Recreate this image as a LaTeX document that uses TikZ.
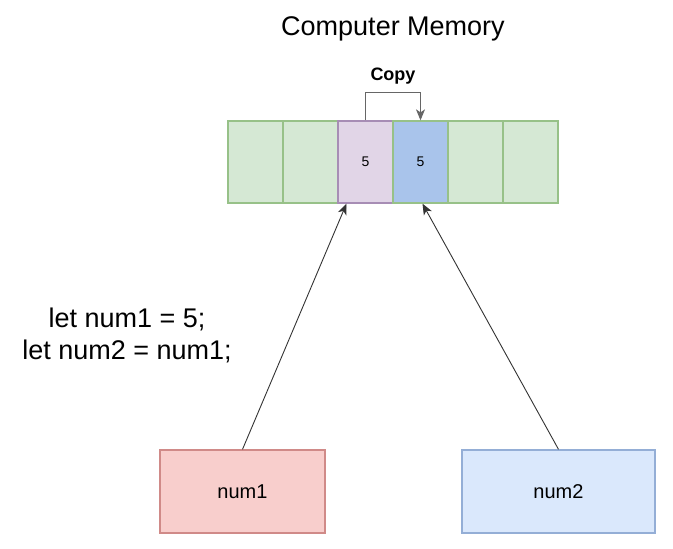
\documentclass[tikz,border=0pt]{standalone}
\usepackage{fontspec}
\setmainfont{Liberation Sans}
\usepackage{xcolor}
\usetikzlibrary{arrows.meta,positioning}

\definecolor{cellgreen}{HTML}{D5E8D4}
\definecolor{linegreen}{HTML}{97C188}
\definecolor{cellpurple}{HTML}{E1D5E7}
\definecolor{linepurple}{HTML}{A78DB5}
\definecolor{cellblue}{HTML}{A9C4EB}
\definecolor{varred}{HTML}{F8CECC}
\definecolor{linered}{HTML}{D08A88}
\definecolor{varblue}{HTML}{DAE8FC}
\definecolor{lineblue}{HTML}{94AED6}

\begin{document}
\begin{tikzpicture}[
    x=1pt, y=-1pt,
    cell/.style={draw=linegreen, fill=cellgreen, line width=1.3pt, minimum width=55pt, minimum height=82pt, inner sep=0pt, font=\fontsize{14}{16}\selectfont},
    var/.style={draw, line width=1.3pt, minimum width=165pt, minimum height=83pt, font=\fontsize{20}{24}\selectfont},
    arrow/.style={-{Stealth[length=11pt,width=9pt,inset=3pt]}, line width=0.9pt, draw=black!80}
]
\useasboundingbox (0,0) rectangle (673,549);

\node[font=\fontsize{27}{32}\selectfont] (title) at (393,29) {Computer Memory};

% memory cells
\foreach \i in {1,...,6}
  \node[cell] (c\i) at ({255.5+55*(\i-1)},162) {};
\node[cell, draw=linepurple, fill=cellpurple] (c3) at (365.5,162) {5};
\node[cell, fill=cellblue] (c4) at (420.5,162) {5};

\draw[arrow, draw=black!60] (c3.north) -- ++(0,-28) -| node[pos=0.25, above=4pt, font=\bfseries\fontsize{18}{20}\selectfont, text=black] {Copy} (c4.north);

\node[align=center, font=\fontsize{27}{32}\selectfont] (code) at (127,335) {let num1 = 5;\\let num2 = num1;};

\node[var, draw=linered, fill=varred] (n1) at (242.5,491.5) {num1};
\node[var, draw=lineblue, fill=varblue, minimum width=193pt] (n2) at (558.5,491.5) {num2};

\draw[arrow] (n1.north) -- ([xshift=-19pt]c3.south);
\draw[arrow] (n2.north) -- ([xshift=2pt]c4.south);
\end{tikzpicture}
\end{document}
